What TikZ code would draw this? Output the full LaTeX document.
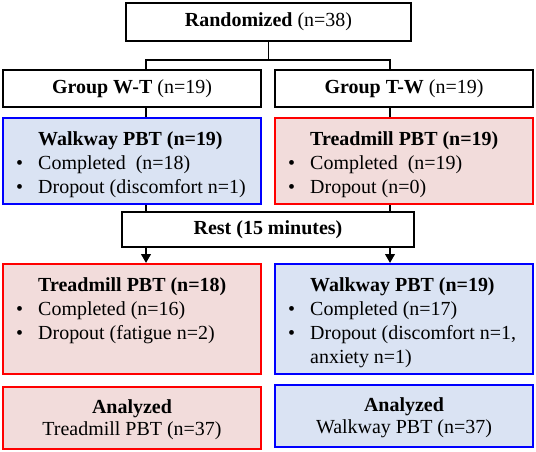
\documentclass[tikz,border=0pt]{standalone}
\usepackage{fontspec}
\setmainfont{Liberation Serif}
\usetikzlibrary{arrows.meta}

\definecolor{walkfill}{RGB}{218,227,243}
\definecolor{treadfill}{RGB}{242,220,219}

\newcommand{\bitem}[1]{\llap{\textbullet\hspace{0.375cm}}#1}

\begin{document}
\begin{tikzpicture}[font=\fontsize{14.2}{17.1}\selectfont,
  plainbox/.style={draw, line width=1.3pt, minimum width=6.45cm, minimum height=0.925cm, inner sep=0},
  walkbox/.style={draw=blue, fill=walkfill, line width=1.5pt, minimum width=6.45cm, inner sep=0},
  treadbox/.style={draw=red, fill=treadfill, line width=1.5pt, minimum width=6.45cm, inner sep=0},
  listtxt/.style={anchor=north west, align=left, inner sep=0},
  flow/.style={line width=1.2pt}]
\useasboundingbox (0,0) rectangle (13.4,11.3);

\path (6.7125,10.75) node[plainbox, minimum width=7.125cm, minimum height=0.95cm] (rand) {\textbf{Randomized} (n=38)}
      (3.3,9.0875) node[plainbox] (gwt) {\textbf{Group W-T} (n=19)}
      (10.1,9.0875) node[plainbox] (gtw) {\textbf{Group T-W} (n=19)};

\path (3.3,7.275) node[walkbox, minimum height=2.15cm] (walk1) {}
      (10.1,7.275) node[treadbox, minimum height=2.15cm] (tread1) {}
      (6.7,5.5625) node[plainbox, minimum width=7.3cm, minimum height=0.875cm] (rest) {\textbf{Rest (15 minutes)}}
      (3.3,3.325) node[treadbox, minimum height=2.75cm] (tread2) {}
      (10.1,3.325) node[walkbox, minimum height=2.75cm] (walk2) {}
      (3.3,0.85) node[treadbox, minimum height=1.55cm, align=center, font=\fontsize{14.2}{15.7}\selectfont] (ana1) {\rule{0pt}{0.45cm}\textbf{Analyzed}\\Treadmill PBT (n=37)}
      (10.1,0.9) node[walkbox, minimum height=1.55cm, align=center, font=\fontsize{14.2}{15.7}\selectfont] (ana2) {\rule{0pt}{0.45cm}\textbf{Analyzed}\\Walkway PBT (n=37)};

% box texts
\node[listtxt] (walk1txt) at ([shift={(0.9,-0.36)}]walk1.north west)
  {\textbf{Walkway PBT (n=19)}\\ \bitem{Completed\ \ (n=18)}\\ \bitem{Dropout (discomfort n=1)}};
\node[listtxt] (tread1txt) at ([shift={(0.9,-0.36)}]tread1.north west)
  {\textbf{Treadmill PBT (n=19)}\\ \bitem{Completed\ \ (n=19)}\\ \bitem{Dropout (n=0)}};
\node[listtxt] (tread2txt) at ([shift={(0.9,-0.36)}]tread2.north west)
  {\textbf{Treadmill PBT (n=18)}\\ \bitem{Completed (n=16)}\\ \bitem{Dropout (fatigue n=2)}};
\node[listtxt] (walk2txt) at ([shift={(0.9,-0.36)}]walk2.north west)
  {\textbf{Walkway PBT (n=19)}\\ \bitem{Completed (n=17)}\\ \bitem{Dropout (discomfort n=1,}\\ anxiety n=1)};

% connectors
\coordinate (fork) at (6.7125,9.8);
\coordinate (lcol) at (3.65,9.8);
\coordinate (rcol) at (9.75,9.8);
\draw[flow] (rand) -- (fork);
\draw[flow] (lcol |- gwt.north) -- (lcol) -- (rcol) -- (rcol |- gtw.north);
\draw[flow] (lcol |- gwt.south) -- (lcol |- walk1.north);
\draw[flow] (rcol |- gtw.south) -- (rcol |- tread1.north);
\draw[flow] (lcol |- walk1.south) -- (lcol |- rest.north);
\draw[flow] (rcol |- tread1.south) -- (rcol |- rest.north);
\draw[flow, -{Triangle[width=0.24cm, length=0.22cm]}] (lcol |- rest.south) -- (lcol |- tread2.north);
\draw[flow, -{Triangle[width=0.24cm, length=0.22cm]}] (rcol |- rest.south) -- (rcol |- walk2.north);

\end{tikzpicture}
\end{document}
